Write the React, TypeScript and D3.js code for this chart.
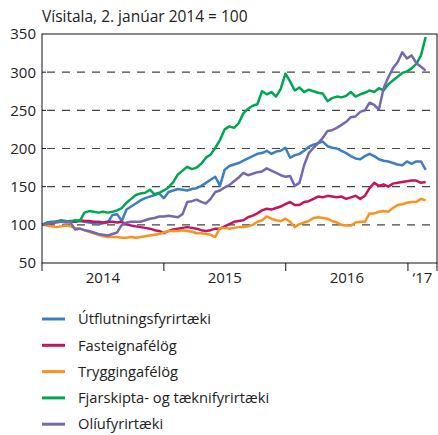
import React from 'react';
import * as d3 from 'd3';

const title = 'Vísitala, 2. janúar 2014 = 100';
const seriesNames = [
  'Útflutningsfyrirtæki',
  'Fasteignafélög',
  'Tryggingafélög',
  'Fjarskipta- og tæknifyrirtæki',
  'Olíufyrirtæki',
];
const seriesColors = ['#3d7dc4', '#c4145e', '#f7931e', '#00a651', '#7467b4'];
const yTicks = [50, 100, 150, 200, 250, 300, 350];
const gridTicks = [100, 150, 200, 250, 300];
const yearStarts = ['2014-01-01', '2015-01-01', '2016-01-01', '2017-01-01'];
const yearLabels = ['2014', '2015', '2016', '‘17'];
const axisEnd = '2017-03-29';
const firstDate = '2014-01-02';
const stepDays = 14;

// values read every second week from 2 Jan 2014
const utflutning = [
  100, 103, 103, 104, 104, 103, 104, 104, 105, 104, 103, 102, 101, 102, 103, 113, 114, 105, 120, 124,
  128, 132, 135, 137, 139, 141, 135, 143, 145, 147, 146, 145, 147, 148, 151, 155, 159, 163, 151, 172,
  177, 179, 181, 184, 187, 190, 193, 194, 197, 193, 196, 197, 201, 188, 191, 193, 197, 202, 205, 207,
  209, 203, 201, 200, 197, 194, 190, 187, 186, 190, 193, 190, 186, 184, 183, 181, 179, 178, 183, 180,
  183, 183, 172,
];
const fasteign = [
  100, 101, 102, 104, 105, 104, 105, 104, 106, 105, 105, 104, 104, 103, 104, 104, 103, 104, 101, 99,
  98, 97, 96, 95, 93, 92, 89, 92, 94, 95, 96, 97, 96, 95, 93, 92, 93, 95, 95, 98,
  101, 104, 105, 106, 110, 112, 115, 119, 121, 120, 122, 124, 127, 130, 126, 126, 130, 131, 134, 137,
  136, 138, 137, 136, 137, 134, 136, 138, 134, 138, 148, 155, 151, 153, 150, 154, 155, 156, 157, 158,
  158, 155, 156,
];
const trygging = [
  100, 99, 98, 97, 98, 99, 98, 96, 95, 93, 91, 89, 87, 85, 84, 84, 84, 83, 83, 84,
  83, 84, 85, 86, 87, 88, 90, 92, 92, 92, 93, 92, 91, 89, 89, 88, 87, 84, 96, 96,
  95, 96, 97, 97, 98, 100, 104, 106, 111, 108, 106, 105, 108, 104, 97, 101, 103, 105, 109, 110,
  109, 108, 105, 103, 100, 99, 99, 103, 104, 104, 115, 115, 117, 118, 117, 122, 126, 127, 129, 130,
  130, 134, 132,
];
const fjarskipti = [
  100, 103, 104, 104, 106, 105, 104, 106, 105, 116, 118, 117, 116, 117, 116, 117, 119, 122, 129, 134,
  139, 141, 142, 146, 140, 142, 145, 149, 156, 166, 171, 176, 173, 175, 180, 188, 192, 201, 211, 225,
  229, 227, 233, 246, 252, 256, 258, 275, 271, 274, 268, 278, 298, 288, 276, 280, 274, 277, 275, 273,
  272, 262, 266, 268, 267, 269, 274, 268, 271, 273, 276, 274, 279, 276, 284, 289, 294, 299, 301, 305,
  311, 322, 346,
];
const oliu = [
  100, 101, 103, 103, 104, 104, 103, 94, 95, 93, 92, 90, 88, 87, 86, 88, 90, 100, 103, 104,
  104, 104, 106, 108, 109, 111, 111, 112, 111, 110, 114, 130, 131, 133, 130, 128, 134, 143, 145, 149,
  152, 157, 162, 168, 165, 167, 169, 170, 174, 171, 168, 165, 163, 164, 151, 155, 178, 194, 201, 207,
  214, 223, 224, 227, 231, 235, 241, 242, 248, 250, 260, 257, 251, 279, 293, 305, 313, 326, 318, 322,
  312, 307, 302,
];

const seriesValues = [utflutning, fasteign, trygging, fjarskipti, oliu];

const W = 438;
const H = 435;
const plot = { left: 42, right: 437, top: 34, bottom: 263 };
const fontFamily = '"Open Sans", "Noto Sans", sans-serif';

const parse = d3.timeParse('%Y-%m-%d');

const App: React.FC = () => {
  const start = parse(firstDate) as Date;
  const end = parse(axisEnd) as Date;
  const years = yearStarts.map((d) => parse(d) as Date);

  const x = d3.scaleTime().domain([years[0], end]).range([plot.left, plot.right]);
  const y = d3.scaleLinear().domain([50, 350]).range([plot.bottom, plot.top]);

  const line = d3
    .line<number>()
    .x((_, i) => x(d3.timeDay.offset(start, i * stepDays)))
    .y((d) => y(d));

  const labelBounds = [...years, end];

  return (
    <svg
      width={W}
      height={H}
      style={{ position: 'absolute', left: 0, top: 0, background: '#fff' }}
      fontFamily={fontFamily}
    >
      <text x={plot.left} y={22} fontSize={15.5} fill="#222">
        {title}
      </text>

      {gridTicks.map((t) => (
        <line
          key={'g' + t}
          x1={plot.left + 5}
          x2={plot.right}
          y1={y(t)}
          y2={y(t)}
          stroke="#444"
          strokeWidth={1.2}
          strokeDasharray="8 7"
        />
      ))}
      {gridTicks.map((t) => (
        <line key={'yt' + t} x1={plot.left} x2={plot.left + 4} y1={y(t)} y2={y(t)} stroke="#111" />
      ))}

      {yTicks.map((t) => (
        <text
          key={'yl' + t}
          x={plot.left - 6}
          y={y(t)}
          dy="0.36em"
          textAnchor="end"
          fontSize={15}
          fill="#222"
        >
          {t}
        </text>
      ))}

      {[...years, end].map((d, i) => (
        <line
          key={'xt' + i}
          x1={x(d)}
          x2={x(d)}
          y1={plot.bottom}
          y2={plot.bottom + 8}
          stroke="#111"
        />
      ))}
      {yearLabels.map((lab, i) => (
        <text
          key={'xl' + i}
          x={(x(labelBounds[i]) + x(labelBounds[i + 1])) / 2}
          y={283}
          textAnchor="middle"
          fontSize={15}
          fill="#222"
        >
          {lab}
        </text>
      ))}

      {seriesValues.map((vals, k) => (
        <path
          key={'s' + k}
          d={line(vals) || ''}
          fill="none"
          stroke={seriesColors[k]}
          strokeWidth={2.5}
          strokeLinejoin="round"
        />
      ))}

      <rect
        x={plot.left}
        y={plot.top}
        width={plot.right - plot.left}
        height={plot.bottom - plot.top}
        fill="none"
        stroke="#111"
        strokeWidth={1}
      />

      {seriesNames.map((name, k) => {
        const ly = 319 + k * 26.3;
        return (
          <g key={'lg' + k}>
            <line x1={42} x2={65} y1={ly} y2={ly} stroke={seriesColors[k]} strokeWidth={3} />
            <text x={78} y={ly} dy="0.36em" fontSize={14.7} fill="#222">
              {name}
            </text>
          </g>
        );
      })}
    </svg>
  );
};

export default App;
